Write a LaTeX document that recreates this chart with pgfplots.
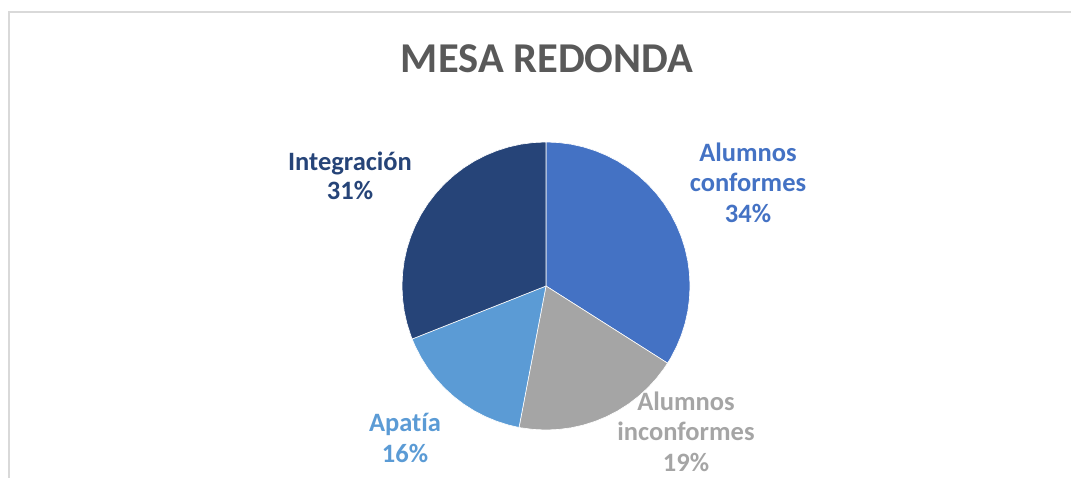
\documentclass[border=0pt]{standalone}
\usepackage{pgfplots}
\pgfplotsset{compat=1.18}
\usepgfplotslibrary{polar}
\usepackage{fontspec}
\setmainfont{Carlito}[Ligatures={NoCommon}]
\definecolor{cConf}{HTML}{4472C4}
\definecolor{cInconf}{HTML}{A5A5A5}
\definecolor{cApat}{HTML}{5B9BD5}
\definecolor{cInteg}{HTML}{264478}
\definecolor{cTitle}{HTML}{595959}
\definecolor{cFrame}{HTML}{D9D9D9}
\begin{document}
\begin{tikzpicture}[x=1pt,y=1pt]
\useasboundingbox (0,0) rectangle (1071,477);
\draw[cFrame, line width=2pt] (9,-5) -- (9,465) -- (1080,465);
% Shares: Alumnos conformes 34%, Alumnos inconformes 19%, Apatia 16%, Integracion 31%
% Slice boundaries (clockwise from 90 deg): 90, -32.4, -100.8, -158.4, -270
\begin{polaraxis}[
  at={(546pt,191pt)}, anchor=origin,
  scale only axis, width=288pt, height=288pt,
  ymin=0, ymax=1, hide axis, clip=false,
]
\addplot[fill=cConf, draw=white, line width=0.6pt] coordinates {
(0,0) (90,1) (85,1) (80,1) (75,1) (70,1) (65,1) (60,1) (55,1) (50,1) (45,1) (40,1) (35,1) (30,1) (25,1) (20,1) (15,1) (10,1) (5,1) (0,1) (-5,1) (-10,1) (-15,1) (-20,1) (-25,1) (-30,1) (-32.4,1) (0,0)};
\addplot[fill=cInconf, draw=white, line width=0.6pt] coordinates {
(0,0) (-32.4,1) (-35,1) (-40,1) (-45,1) (-50,1) (-55,1) (-60,1) (-65,1) (-70,1) (-75,1) (-80,1) (-85,1) (-90,1) (-95,1) (-100,1) (-100.8,1) (0,0)};
\addplot[fill=cApat, draw=white, line width=0.6pt] coordinates {
(0,0) (-100.8,1) (-105,1) (-110,1) (-115,1) (-120,1) (-125,1) (-130,1) (-135,1) (-140,1) (-145,1) (-150,1) (-155,1) (-158.4,1) (0,0)};
\addplot[fill=cInteg, draw=white, line width=0.6pt] coordinates {
(0,0) (-158.4,1) (-160,1) (-165,1) (-170,1) (-175,1) (-180,1) (-185,1) (-190,1) (-195,1) (-200,1) (-205,1) (-210,1) (-215,1) (-220,1) (-225,1) (-230,1) (-235,1) (-240,1) (-245,1) (-250,1) (-255,1) (-260,1) (-265,1) (-270,1) (0,0)};
\end{polaraxis}
\node[anchor=base, text=cTitle, font=\fontsize{42.5}{50}\selectfont\bfseries] at (547,404) {MESA REDONDA};
\tikzset{lbl/.style={anchor=base, font=\fontsize{26.5}{32}\selectfont\bfseries, inner sep=0pt}}
\node[lbl, text=cInteg] at (350,306) {Integración};
\node[lbl, text=cInteg] at (350,277) {31\%};
\node[lbl, text=cConf] at (748,315) {Alumnos};
\node[lbl, text=cConf] at (748,285) {conformes};
\node[lbl, text=cConf] at (748,254) {34\%};
\node[lbl, text=cApat] at (405,46) {Apatía};
\node[lbl, text=cApat] at (405,15) {16\%};
\node[lbl, text=cInconf] at (686,67) {Alumnos};
\node[lbl, text=cInconf] at (686,37) {inconformes};
\node[lbl, text=cInconf] at (686,6) {19\%};
\end{tikzpicture}
\end{document}
